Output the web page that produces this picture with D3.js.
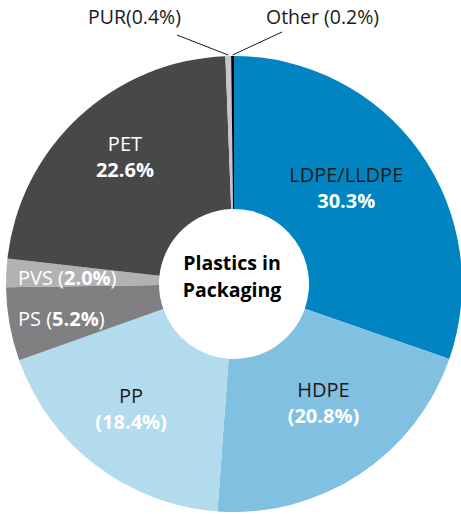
<!DOCTYPE html>
<html>
<head>
<meta charset="utf-8">
<script src="https://cdn.jsdelivr.net/npm/d3@7"></script>
<style>
  body { margin: 0; background: #fff; }
  svg text { font-family: "Open Sans", "Noto Sans", sans-serif; }
</style>
</head>
<body>
<div id="chart"></div>
<script>
// clockwise from 12 o'clock
const names = ["LDPE/LLDPE", "HDPE", "PP", "PS", "PVS", "PET", "PUR", "Other"];
const shares = [30.3, 20.8, 18.4, 5.2, 2.0, 22.6, 0.4, 0.2];
const colors = ["#0085c2", "#80c1e1", "#b3dbee", "#808083", "#b2b2b5", "#48484a", "#c6c6c8", "#000000"];
const title = ["Plastics in", "Packaging"];

const width = 461;
const height = 514;
const cx = 234;
const cy = 284;
const outerR = 228;
const innerR = 75;

const svg = d3
  .select("#chart")
  .append("svg")
  .attr("width", width)
  .attr("height", height);

const data = names.map((n, i) => ({ name: n, value: shares[i], color: colors[i] }));

const pie = d3.pie().sort(null).value((d) => d.value);
const arcs = pie(data);
const arc = d3.arc().innerRadius(innerR).outerRadius(outerR);
const labelArc = d3.arc().innerRadius(150).outerRadius(150);
const sideArc = d3.arc().innerRadius(200).outerRadius(200);
const edgeArc = d3.arc().innerRadius(outerR + 1).outerRadius(outerR + 1);

const g = svg.append("g").attr("transform", `translate(${cx},${cy})`);

g.selectAll("path")
  .data(arcs)
  .enter()
  .append("path")
  .attr("d", arc)
  .attr("fill", (d) => d.data.color);

// two-line labels inside the big slices
const fmt = (v) => v.toFixed(1) + "%";
const inner = {
  "LDPE/LLDPE": { dx: -10, dy: -2, paren: false, nameFill: "#1a1a1a" },
  HDPE: { dx: 7, dy: 1, paren: true, nameFill: "#1a1a1a" },
  PP: { dx: -12, dy: 13, paren: true, nameFill: "#1a1a1a" },
  PET: { dx: -7, dy: -10, paren: false, nameFill: "#ffffff" },
};

arcs
  .filter((d) => inner[d.data.name])
  .forEach((d) => {
    const o = inner[d.data.name];
    const c = labelArc.centroid(d);
    const t = g
      .append("text")
      .attr("text-anchor", "middle")
      .attr("transform", `translate(${c[0] + o.dx},${c[1] + o.dy})`);
    t.append("tspan")
      .attr("x", 0)
      .attr("y", -13)
      .attr("font-size", 20)
      .attr("fill", o.nameFill)
      .text(d.data.name);
    t.append("tspan")
      .attr("x", 0)
      .attr("y", 13)
      .attr("font-size", 20)
      .attr("font-weight", "bold")
      .attr("fill", "#fff")
      .text(o.paren ? "(" + fmt(d.data.value) + ")" : fmt(d.data.value));
  });

// PS and PVS, left aligned at the pie's edge
const side = { PVS: 11, PS: 7 };
arcs
  .filter((d) => side[d.data.name] !== undefined)
  .forEach((d) => {
    const c = sideArc.centroid(d);
    const t = g
      .append("text")
      .attr("x", -outerR + 12)
      .attr("y", c[1] + side[d.data.name])
      .attr("font-size", 20)
      .attr("fill", "#fff");
    t.append("tspan").text(d.data.name + " (");
    t.append("tspan").attr("font-weight", "bold").text(fmt(d.data.value));
    t.append("tspan").text(")");
  });

// outside labels with leader lines
const outside = {
  PUR: { lx: -57, ly: -outerR - 21, tx: -53, anchor: "end", text: (d) => "PUR(" + fmt(d.data.value) + ")" },
  Other: { lx: 48, ly: -outerR - 24, tx: 32, anchor: "start", text: (d) => "Other (" + fmt(d.data.value) + ")" },
};
arcs
  .filter((d) => outside[d.data.name])
  .forEach((d) => {
    const o = outside[d.data.name];
    const p = edgeArc.centroid(d);
    g.append("line")
      .attr("x1", p[0])
      .attr("y1", p[1])
      .attr("x2", o.lx)
      .attr("y2", o.ly)
      .attr("stroke", "#1a1a1a")
      .attr("stroke-width", 1);
    g.append("text")
      .attr("x", o.tx)
      .attr("y", -outerR - 32)
      .attr("text-anchor", o.anchor)
      .attr("font-size", 19.5)
      .attr("fill", "#1a1a1a")
      .text(o.text(d));
  });

// centre title
g.append("text")
  .attr("text-anchor", "middle")
  .selectAll("tspan")
  .data(title)
  .enter()
  .append("tspan")
  .attr("x", -2)
  .attr("y", (d, i) => -14 + i * 27)
  .attr("font-size", 19.5)
  .attr("font-weight", "bold")
  .attr("fill", "#000")
  .text((d) => d);
</script>
</body>
</html>
